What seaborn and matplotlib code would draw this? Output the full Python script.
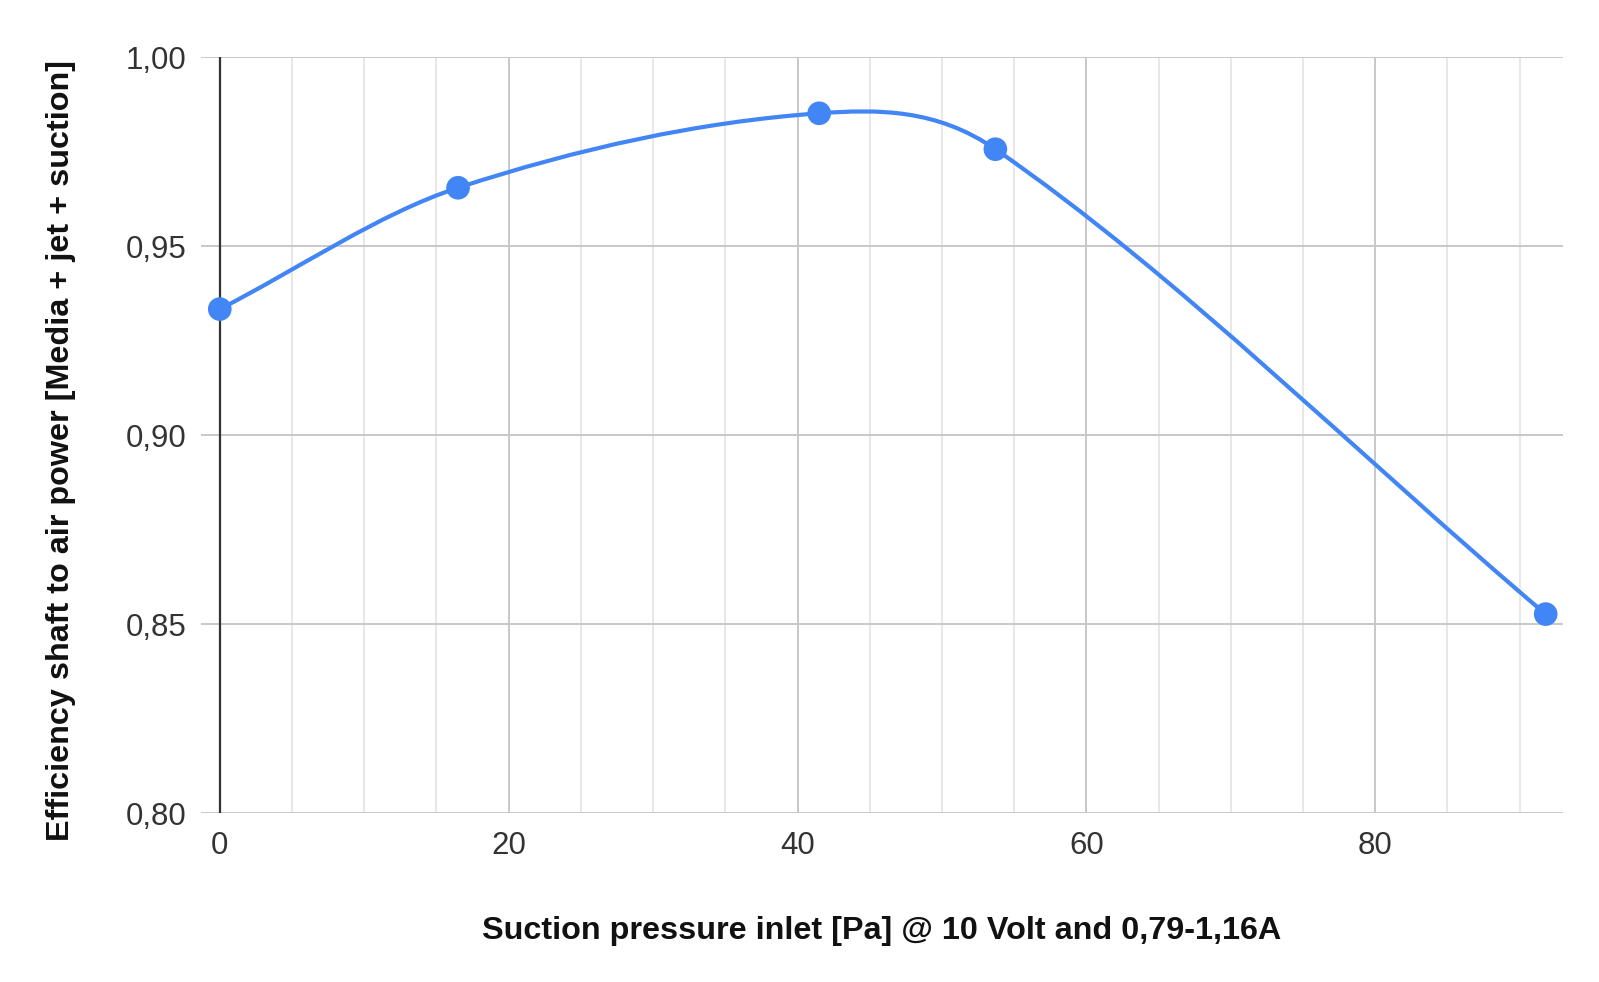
import numpy as np
import matplotlib
matplotlib.use("Agg")
import matplotlib.pyplot as plt
from matplotlib.path import Path
from matplotlib.patches import PathPatch
from matplotlib.ticker import MultipleLocator, FuncFormatter
import seaborn as sns

# ================= DATA =================
suction_pa = [0.0, 16.5, 41.5, 53.7, 91.8]
efficiency = [0.9334, 0.9655, 0.9852, 0.9757, 0.8527]

x_ticks = [0, 20, 40, 60, 80]
y_ticks = [0.80, 0.85, 0.90, 0.95, 1.00]

X_LABEL = "Suction pressure inlet [Pa] @ 10 Volt and 0,79-1,16A"
Y_LABEL = "Efficiency shaft to air power [Media + jet + suction]"

BLUE = "#4285F4"

# ================= STYLE =================
sns.set_theme(style="white")
plt.rcParams["font.family"] = ["Liberation Sans", "DejaVu Sans"]

fig = plt.figure(figsize=(15.99, 9.82), dpi=100)
ax = fig.add_axes([0.1257, 0.1718, 0.8518, 0.7698])

# ================= SMOOTH LINE (hermite curve drawn as bezier path) =================
xs = np.asarray(suction_pa)
ys = np.asarray(efficiency)
n = len(xs)
slopes = np.empty(n)
slopes[0] = (ys[1] - ys[0]) / (xs[1] - xs[0])
slopes[-1] = (ys[-1] - ys[-2]) / (xs[-1] - xs[-2])
for i in range(1, n - 1):
    slopes[i] = (ys[i + 1] - ys[i - 1]) / (xs[i + 1] - xs[i - 1])

verts = [(xs[0], ys[0])]
codes = [Path.MOVETO]
for i in range(n - 1):
    h = (xs[i + 1] - xs[i]) / 3.0
    verts += [(xs[i] + h, ys[i] + slopes[i] * h),
              (xs[i + 1] - h, ys[i + 1] - slopes[i + 1] * h),
              (xs[i + 1], ys[i + 1])]
    codes += [Path.CURVE4] * 3
ax.add_patch(PathPatch(Path(verts, codes), facecolor="none", edgecolor=BLUE,
                       lw=3.0, capstyle="round", joinstyle="round", zorder=3))

sns.scatterplot(x=suction_pa, y=efficiency, ax=ax, color=BLUE, s=290,
                edgecolor="none", zorder=4, legend=False)

# ================= AXES =================
ax.set_xlim(-1.3, 93.0)
ax.set_ylim(0.80, 1.00)
ax.set_xticks(x_ticks)
ax.set_yticks(y_ticks)
ax.xaxis.set_minor_locator(MultipleLocator(5))
ax.yaxis.set_major_formatter(FuncFormatter(lambda v, p: f"{v:.2f}".replace(".", ",")))

ax.grid(which="major", axis="both", color="#c8c8c8", lw=1.4, zorder=0)
ax.grid(which="minor", axis="x", color="#e8e8e8", lw=1.4, zorder=0)
ax.axvline(0, color="#333333", lw=1.6, zorder=1)
for s in ax.spines.values():
    s.set_visible(False)

ax.tick_params(axis="both", which="both", length=0, labelsize=22.5, colors="#333333")
ax.tick_params(axis="x", pad=13)
ax.tick_params(axis="y", pad=10.5)

ax.set_xlabel(X_LABEL, fontsize=23.3, fontweight="bold", color="#111111", labelpad=39)
ax.set_ylabel(Y_LABEL, fontsize=23.3, fontweight="bold", color="#111111")
ax.yaxis.set_label_coords(-0.092, 0.48)

fig.savefig("out.png", dpi=100, facecolor="white")
